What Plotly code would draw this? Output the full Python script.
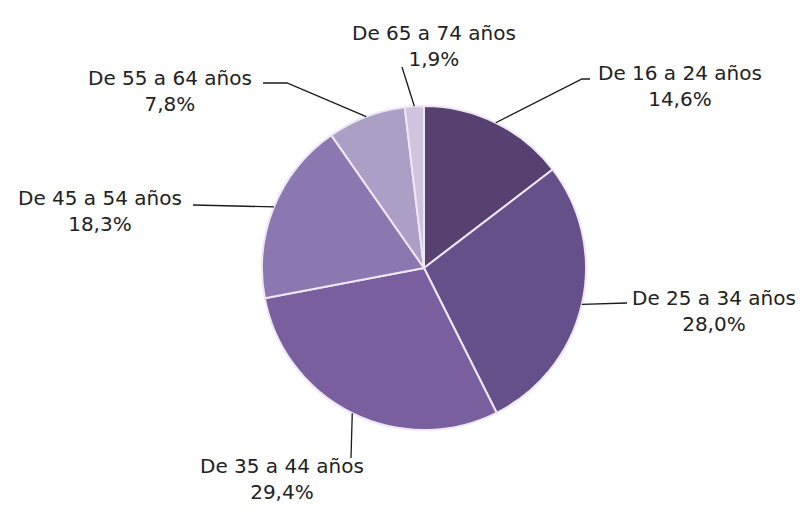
import math
import plotly.graph_objects as go

# ---- data ----
categories = ["De 16 a 24 años", "De 25 a 34 años", "De 35 a 44 años",
              "De 45 a 54 años", "De 55 a 64 años", "De 65 a 74 años"]
values = [14.6, 28.0, 29.4, 18.3, 7.8, 1.9]
value_labels = ["14,6%", "28,0%", "29,4%", "18,3%", "7,8%", "1,9%"]

# ---- styling ----
colors = ["#564170", "#66508a", "#7a5f9f", "#8c78b0", "#ab9fc6", "#cec4de"]
PAGE_W, PAGE_H = 807, 511
OFF = 8                      # default page margin around the figure
W, H = PAGE_W - 2 * OFF, PAGE_H - 2 * OFF
CX, CY, R = 424, 268, 162    # pie centre / radius in page pixels

# label layout (page pixels): text centre, then leader-line bend points
label_layout = {
    "De 16 a 24 años": dict(text=(680, 86), path=[(582, 79), (590, 79)]),
    "De 25 a 34 años": dict(text=(714, 311), path=[(627, 303)]),
    "De 35 a 44 años": dict(text=(282, 479), path=[(351, 458)]),
    "De 45 a 54 años": dict(text=(100, 211), path=[(193, 205)]),
    "De 55 a 64 años": dict(text=(170, 91), path=[(287, 83), (263, 83)]),
    "De 65 a 74 años": dict(text=(434, 46), path=[(402, 67)]),
}

def px(x):
    return (x - OFF) / W

def py(y):
    return 1 - (y - OFF) / H

fig = go.Figure(go.Pie(
    labels=categories,
    values=values,
    sort=False,
    direction="clockwise",
    rotation=0,
    textinfo="none",
    marker=dict(colors=colors, line=dict(color="#eee6f4", width=2)),
    domain=dict(x=[px(CX - R), px(CX + R)], y=[py(CY + R), py(CY - R)]),
    showlegend=False,
))

total = sum(values)
cum = 0.0
shapes = []
annotations = []
for cat, v, lab in zip(categories, values, value_labels):
    mid = (cum + v / 2) / total * 2 * math.pi
    cum += v
    ex = CX + R * math.sin(mid)
    ey = CY - R * math.cos(mid)
    lay = label_layout[cat]
    pts = [(ex, ey)] + lay["path"]
    d = "M {} {}".format(px(pts[0][0]), py(pts[0][1]))
    for (x, y) in pts[1:]:
        d += " L {} {}".format(px(x), py(y))
    shapes.append(dict(type="path", xref="paper", yref="paper", path=d,
                       line=dict(color="#1a1a1a", width=1.3)))
    tx, ty = lay["text"]
    annotations.append(dict(
        x=px(tx), y=py(ty), xref="paper", yref="paper",
        text=f"{cat}<br>{lab}", showarrow=False,
        xanchor="center", yanchor="middle", align="center",
        font=dict(family="DejaVu Sans", size=20, color="#222222"),
    ))

fig.update_layout(
    width=W, height=H,
    margin=dict(l=0, r=0, t=0, b=0),
    paper_bgcolor="white",
    plot_bgcolor="white",
    shapes=shapes,
    annotations=annotations,
)

fig.write_html("out.html")
